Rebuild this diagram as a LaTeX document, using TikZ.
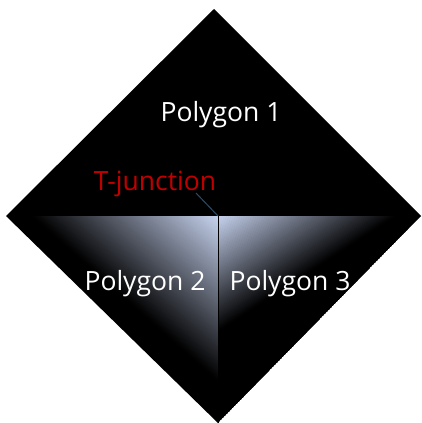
\documentclass[tikz,border=0pt]{standalone}
\usepackage{fontspec}
\setmainfont{Open Sans}
\usetikzlibrary{calc}

\definecolor{glow}{RGB}{200,212,240}
\definecolor{jred}{RGB}{192,0,0}
\definecolor{leader}{RGB}{46,76,104}

\tikzset{
  plabel/.style={text=white,font=\fontsize{26.5}{30}\selectfont,inner sep=0pt},
  jlabel/.style={text=jred,font=\fontsize{26.5}{30}\selectfont,inner sep=0pt},
  leaderline/.style={draw=leader,line width=1pt},
  seam/.style={draw=black,line width=1pt}
}

% Glow filling triangle (#1,#2,#3): brightest at corner #1, reaching black
% at fraction #4 of side #1-#2 and fraction #5 of side #1-#3.
\newcommand{\glowtriangle}[5]{%
  \begin{scope}
    \clip (#1) -- (#2) -- (#3) -- cycle;
    \fill[black] (#1) -- (#2) -- (#3) -- cycle;
    \foreach \i in {0,...,99}{
      \pgfmathsetmacro{\sa}{#4*\i/100}
      \pgfmathsetmacro{\sb}{#4*(\i+1.5)/100}
      \pgfmathsetmacro{\ua}{#5*\i/100}
      \pgfmathsetmacro{\ub}{#5*(\i+1.5)/100}
      \pgfmathsetmacro{\pct}{100-\i-0.5}
      \fill[glow!\pct!black]
        ($(#1)!\sa!(#2)$) -- ($(#1)!\sb!(#2)$) --
        ($(#1)!\ub!(#3)$) -- ($(#1)!\ua!(#3)$) -- cycle;
    }
  \end{scope}}

\begin{document}
\begin{tikzpicture}[x=1pt,y=-1pt]
  \useasboundingbox (0,0) rectangle (422,423);

  % corners of the diamond
  \coordinate (top) at (214,9);
  \coordinate (lft) at (6,216);
  \coordinate (rgt) at (421,216);
  \coordinate (bot) at (218,423);
  \coordinate (tj)  at (218,216);

  % upper polygon
  \fill[black] (top) -- (lft) -- (rgt) -- cycle;

  % lower polygons, lit from the T-junction
  \glowtriangle{tj}{lft}{bot}{0.88}{0.8}
  \glowtriangle{tj}{rgt}{bot}{0.88}{0.56}

  % shared edge of polygons 2 and 3
  \draw[seam] (tj) -- (bot);

  % labels
  \node[plabel] (p1) at (221,115) {Polygon 1};
  \node[plabel] (p2) at (145,284) {Polygon 2};
  \node[plabel] (p3) at (290,284) {Polygon 3};
  \node[jlabel] (jt) at (155,184) {T-junction};

  % leader from the label to the junction point
  \coordinate (jfoot) at (196,193);
  \draw[leaderline] (jfoot) -- (tj);
\end{tikzpicture}
\end{document}
